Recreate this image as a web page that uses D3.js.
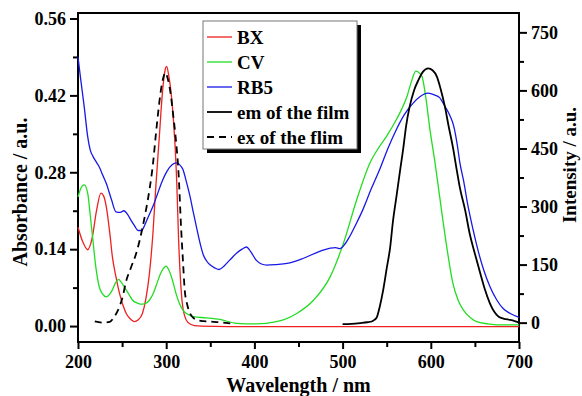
<!DOCTYPE html>
<html>
    <head>
        <meta charset="utf-8">
        <script src="https://d3js.org/d3.v7.min.js"></script>
        <style>
            body {
                margin: 0;
                background: #fff;
            }
            svg text {
                font-family: "Liberation Serif", "Times New Roman", serif;
                font-weight: bold;
                fill: #000;
            }
            .axis path {
                display: none;
            }
            .axis line {
                stroke: #000;
                stroke-width: 2px;
            }
            .axis text {
                font-size: 18px;
            }
            .frame {
                fill: none;
                stroke: #000;
                stroke-width: 2px;
            }
            .curve {
                fill: none;
                stroke-linejoin: round;
            }
        </style>
    </head>
    <body>
        <div id="chart"></div>
        <script>
            // absorbance spectra [wavelength nm, absorbance]
            var bx = [[200,0.18],[205,0.155],[211,0.139],[216,0.16],[221,0.21],[226,0.242],[229,0.237],[232,0.218],[236,0.17],[239,0.126],[243,0.09],[247,0.06],[251,0.038],[255,0.022],[260,0.012],[264,0.008],[268,0.011],[273,0.023],[277,0.05],[281,0.096],[285,0.17],[288,0.248],[292,0.34],[296,0.43],[299,0.468],[300.5,0.473],[303,0.455],[307,0.40],[310,0.33],[312,0.26],[314,0.16],[316,0.09],[318,0.045],[321,0.018],[325,0.006],[332,0.001],[340,0],[400,-0.001],[500,-0.001],[600,-0.001],[700,-0.001]];
            var cv = [[200,0.235],[203,0.25],[207,0.257],[211,0.242],[214,0.2],[217,0.155],[220,0.11],[224,0.072],[228,0.058],[232,0.053],[236,0.058],[239,0.066],[243,0.08],[246,0.085],[249,0.08],[253,0.07],[258,0.057],[262,0.047],[267,0.042],[271,0.04],[276,0.041],[281,0.047],[286,0.062],[290,0.08],[294,0.097],[298,0.107],[300,0.109],[303,0.102],[307,0.084],[311,0.06],[315,0.041],[319,0.029],[325,0.021],[331,0.017],[345,0.015],[361,0.012],[380,0.005],[402,0.004],[425,0.008],[448,0.023],[467,0.047],[486,0.09],[501,0.151],[516,0.23],[531,0.297],[541,0.325],[550,0.346],[561,0.376],[567,0.395],[573,0.418],[578,0.445],[583,0.464],[586,0.462],[590,0.455],[594,0.42],[599,0.358],[605,0.295],[610,0.236],[618,0.145],[625,0.078],[631,0.047],[637,0.029],[645,0.015],[652,0.008],[665,0.004],[675,0.002],[700,0.002]];
            var rb5 = [[200,0.49],[203,0.45],[207,0.40],[211,0.345],[214,0.32],[217,0.309],[221,0.298],[224,0.29],[228,0.275],[232,0.26],[238,0.23],[243,0.208],[248,0.207],[252,0.21],[256,0.204],[260,0.193],[264,0.183],[268,0.174],[272,0.174],[276,0.185],[280,0.2],[285,0.218],[290,0.24],[296,0.266],[301,0.282],[307,0.294],[311,0.297],[315,0.294],[319,0.285],[323,0.262],[327,0.236],[331,0.205],[335,0.175],[339,0.147],[342,0.13],[346,0.118],[350,0.111],[355,0.106],[360,0.103],[366,0.11],[372,0.12],[380,0.133],[386,0.14],[391,0.144],[396,0.135],[402,0.12],[408,0.113],[414,0.111],[425,0.112],[437,0.114],[455,0.123],[474,0.136],[486,0.142],[492,0.143],[497,0.141],[502,0.148],[508,0.163],[515,0.185],[523,0.212],[532,0.248],[542,0.285],[551,0.322],[561,0.358],[570,0.385],[580,0.406],[588,0.418],[597,0.424],[604,0.421],[610,0.416],[616,0.40],[622,0.382],[626,0.364],[630,0.33],[633,0.297],[637,0.266],[642,0.22],[648,0.175],[654,0.135],[660,0.102],[667,0.072],[675,0.047],[682,0.032],[690,0.023],[700,0.016]];

            // film spectra [wavelength nm, intensity]
            var emFilm = [[500,-4],[510,-3],[520,-1],[528,1],[533,3],[536,7],[539,15],[542,40],[546,84],[550,140],[554,196],[557,260],[561,325],[565,390],[569,454],[572,508],[576,558],[581,600],[586,627],[591,648],[597,657],[602,652],[607,635],[611,605],[616,558],[620,510],[625,454],[629,400],[633,348],[639,290],[644,231],[650,178],[656,128],[661,88],[667,50],[672,28],[677,15],[683,10],[690,7],[695,4],[700,0]];
            var exFilm = [[219,3],[228,0],[236,2],[241,15],[247,41],[251,70],[254,102],[260,142],[266,179],[273,244],[277,290],[281,343],[285,410],[288,480],[291,545],[294,601],[297,635],[299,646],[302,628],[305,592],[308,535],[311,472],[314,386],[317,240],[319,160],[321,84],[324,45],[327,24],[331,12],[335,7],[342,4],[350,3],[360,1],[374,-2]];

            var xTicks = [200, 300, 400, 500, 600, 700];
            var absTicks = [0.00, 0.14, 0.28, 0.42, 0.56];
            var intTicks = [0, 150, 300, 450, 600, 750];
            var legendNames = ["BX", "CV", "RB5", "em of the film", "ex of the flim"];

            var width = 582, height = 396;
            var plot = {left: 78, right: 519, top: 13, bottom: 342};

            var svg = d3.select("#chart").append("svg")
                .attr("width", width)
                .attr("height", height);

            var x = d3.scaleLinear().domain([200, 700]).range([plot.left, plot.right]);
            var yAbs = d3.scaleLinear().domain([-0.029, 0.570]).range([plot.bottom, plot.top]);
            var yInt = d3.scaleLinear().domain([-50, 800]).range([plot.bottom, plot.top]);

            // minor ticks
            svg.append("g").attr("class", "axis")
                .attr("transform", "translate(0," + plot.bottom + ")")
                .call(d3.axisBottom(x).tickValues(d3.range(250, 700, 100)).tickSize(5).tickFormat(""));
            svg.append("g").attr("class", "axis")
                .attr("transform", "translate(" + plot.left + ",0)")
                .call(d3.axisLeft(yAbs).tickValues([0.07, 0.21, 0.35, 0.49]).tickSize(5).tickFormat(""));
            svg.append("g").attr("class", "axis")
                .attr("transform", "translate(" + plot.right + ",0)")
                .call(d3.axisRight(yInt).tickValues([75, 225, 375, 525, 675]).tickSize(5).tickFormat(""));

            // major ticks
            svg.append("g").attr("class", "axis")
                .attr("transform", "translate(0," + plot.bottom + ")")
                .call(d3.axisBottom(x).tickValues(xTicks).tickSize(7).tickPadding(6));
            svg.append("g").attr("class", "axis")
                .attr("transform", "translate(" + plot.left + ",0)")
                .call(d3.axisLeft(yAbs).tickValues(absTicks).tickSize(8).tickPadding(4).tickFormat(d3.format(".2f")));
            svg.append("g").attr("class", "axis")
                .attr("transform", "translate(" + plot.right + ",0)")
                .call(d3.axisRight(yInt).tickValues(intTicks).tickSize(8).tickPadding(4));

            svg.append("rect")
                .attr("class", "frame")
                .attr("x", plot.left)
                .attr("y", plot.top)
                .attr("width", plot.right - plot.left)
                .attr("height", plot.bottom - plot.top);

            var absLine = d3.line()
                .x(function(d) { return x(d[0]); })
                .y(function(d) { return yAbs(d[1]); })
                .curve(d3.curveMonotoneX);
            var intLine = d3.line()
                .x(function(d) { return x(d[0]); })
                .y(function(d) { return yInt(d[1]); })
                .curve(d3.curveMonotoneX);

            var series = [
                {data: bx, line: absLine, color: "#ee2020", w: 1.3, dash: null},
                {data: cv, line: absLine, color: "#22dd22", w: 1.3, dash: null},
                {data: rb5, line: absLine, color: "#1818e8", w: 1.3, dash: null},
                {data: emFilm, line: intLine, color: "#000", w: 1.8, dash: null},
                {data: exFilm, line: intLine, color: "#000", w: 1.8, dash: "7,5"}
            ];

            svg.selectAll(".curve")
                .data(series)
                .enter().append("path")
                .attr("class", "curve")
                .attr("d", function(d) { return d.line(d.data); })
                .style("stroke", function(d) { return d.color; })
                .style("stroke-width", function(d) { return d.w; })
                .style("stroke-dasharray", function(d) { return d.dash; });

            // legend
            var legend = svg.append("g").attr("transform", "translate(203,21)");
            legend.append("rect")
                .attr("x", 4).attr("y", 4)
                .attr("width", 154).attr("height", 128)
                .style("fill", "#000");
            legend.append("rect")
                .attr("width", 154).attr("height", 128)
                .style("fill", "#fff")
                .style("stroke", "#777")
                .style("stroke-width", 1);

            var item = legend.selectAll(".legend")
                .data(legendNames)
                .enter().append("g")
                .attr("class", "legend")
                .attr("transform", function(d, i) { return "translate(0," + (16 + i * 25) + ")"; });
            item.append("line")
                .attr("x1", 4).attr("x2", 29)
                .style("stroke", function(d, i) { return series[i].color; })
                .style("stroke-width", function(d, i) { return series[i].w; })
                .style("stroke-dasharray", function(d, i) { return series[i].dash; });
            item.append("text")
                .attr("x", 34)
                .attr("dy", "0.35em")
                .style("font-size", "19px")
                .text(function(d) { return d; });

            // axis titles
            svg.append("text")
                .attr("x", (plot.left + plot.right) / 2)
                .attr("y", 392)
                .attr("text-anchor", "middle")
                .style("font-size", "20px")
                .text("Wavelength / nm");
            svg.append("text")
                .attr("transform", "translate(27,192) rotate(-90)")
                .attr("text-anchor", "middle")
                .style("font-size", "20px")
                .text("Absorbance / a.u.");
            svg.append("text")
                .attr("transform", "translate(576,165) rotate(-90)")
                .attr("text-anchor", "middle")
                .style("font-size", "19px")
                .text("Intensity / a.u.");
        </script>
    </body>
</html>
